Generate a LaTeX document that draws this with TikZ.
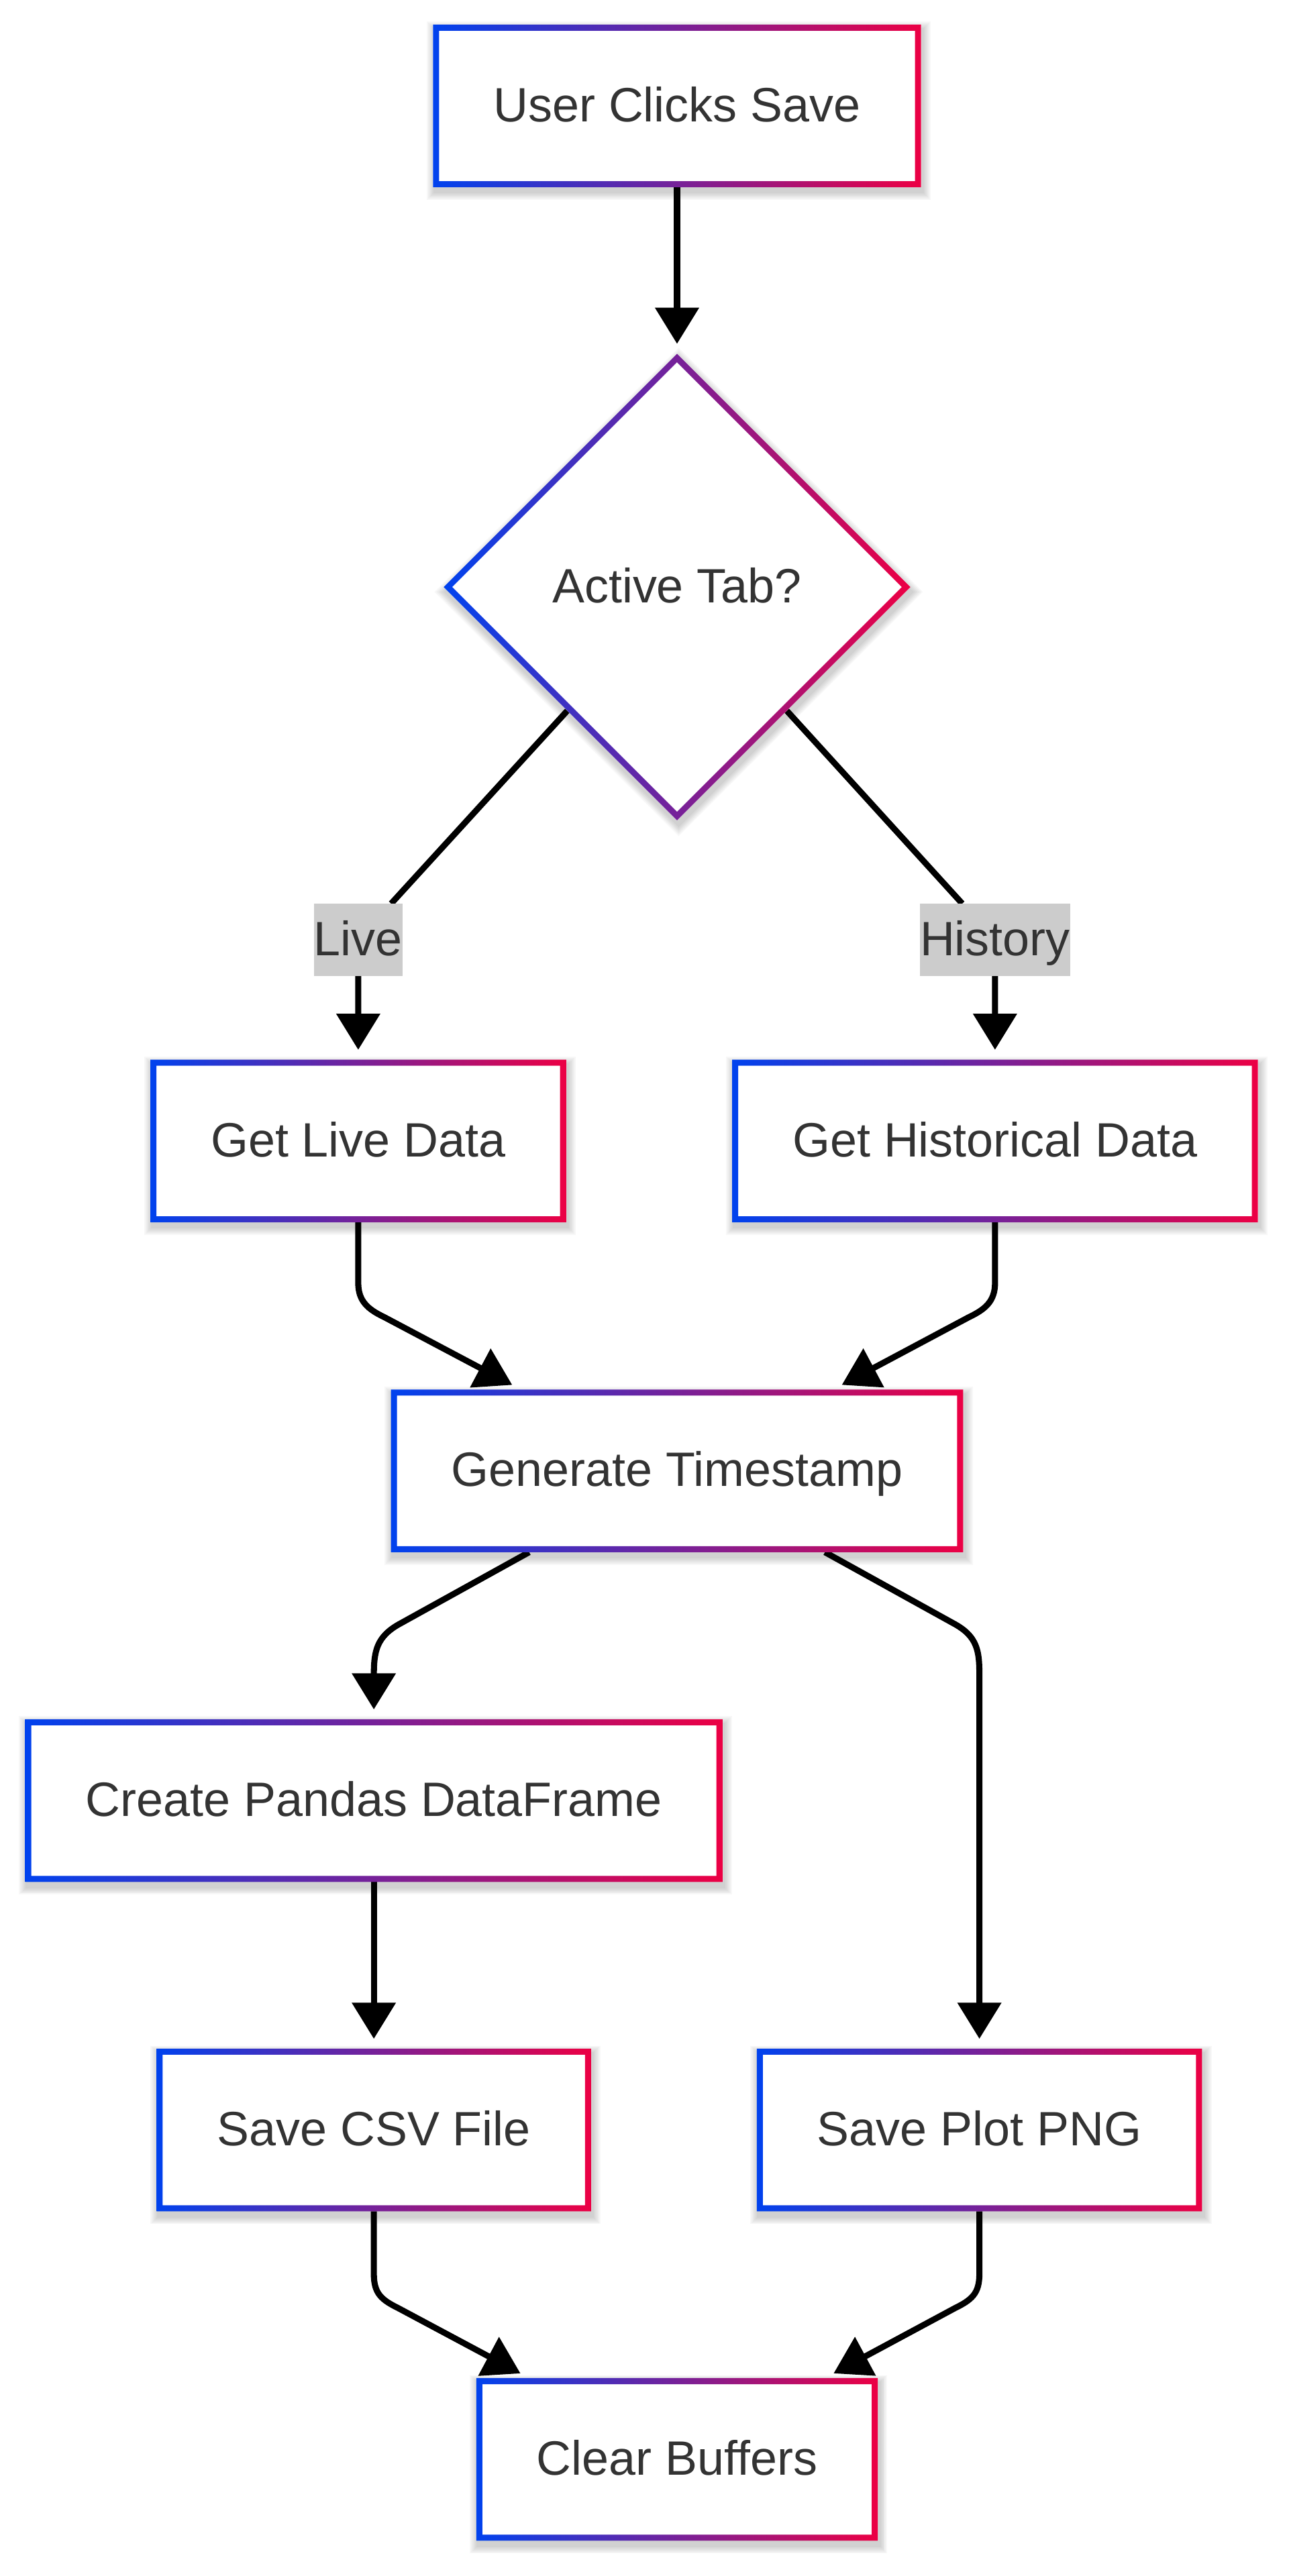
\documentclass[tikz,border=0pt]{standalone}
\usepackage{fontspec}
\setmainfont{Liberation Sans}
\usetikzlibrary{shapes.geometric,arrows.meta,calc}
\definecolor{gblue}{RGB}{0,66,238}
\definecolor{gred}{RGB}{236,0,68}
\definecolor{txtc}{HTML}{333333}
\definecolor{lblbg}{HTML}{CCCCCC}
\pgfdeclarelayer{bglayer}
\pgfdeclarelayer{shadowlayer}
\pgfdeclarelayer{edgelayer}
\pgfsetlayers{bglayer,shadowlayer,edgelayer,main}
\newcommand{\gradring}[1]{%
  \shade[left color=gblue, right color=gred, even odd rule]
    (#1.south west) rectangle (#1.north east)
    ([xshift=3.7pt,yshift=3.7pt]#1.south west) rectangle ([xshift=-3.7pt,yshift=-3.7pt]#1.north east);}
\newcommand{\gradiam}[1]{%
  \shade[left color=gblue, right color=gred, even odd rule]
    (#1.north) -- (#1.east) -- (#1.south) -- (#1.west) -- cycle
    ([yshift=-5.2pt]#1.north) -- ([xshift=-5.2pt]#1.east) -- ([yshift=5.2pt]#1.south) -- ([xshift=5.2pt]#1.west) -- cycle;}
\newcommand{\boxshadow}[1]{%
  \foreach \k in {1,...,6}{%
    \fill[black,opacity=0.03] ($(#1.south west)+(1-\k*0.8,3+\k*0.8)$) rectangle ($(#1.north east)+(1+\k*0.8,3-\k*0.8)$);}}
\newcommand{\diamshadow}[1]{%
  \foreach \k in {1,...,6}{%
    \fill[black,opacity=0.03] ($(#1.north)+(1,3-\k*1.1)$) -- ($(#1.east)+(1+\k*1.1,3)$) -- ($(#1.south)+(1,3+\k*1.1)$) -- ($(#1.west)+(1-\k*1.1,3)$) -- cycle;}}
\begin{document}
\begin{tikzpicture}[x=1pt,y=-1pt,
  every node/.style={font=\fontsize{29.35}{35}\selectfont, text=txtc},
  proc/.style={rectangle, fill=white, inner xsep=36.8pt, inner ysep=0pt, minimum height=99pt, outer sep=0pt, text height=21pt, text depth=2pt},
  dec/.style={diamond, fill=white, minimum width=284pt, minimum height=284pt, inner sep=0pt, outer sep=0pt, text height=21pt, text depth=2pt},
  lbl/.style={rectangle, fill=lblbg, inner xsep=0pt, inner ysep=0pt, minimum height=44pt, outer sep=0pt, text height=21pt, text depth=2pt},
  arr/.style={draw=black, line width=3.7pt, line join=round, -{Triangle[length=22pt,width=26pt]}, shorten >=6pt}
]
\begin{pgfonlayer}{bglayer}
\fill[white] (0,0) rectangle (784,1568);
\end{pgfonlayer}
\useasboundingbox (0,0) rectangle (784,1568);

\node[proc] (start) at (412,64.5) {User Clicks Save};
\node[dec] (d) at (412,357.3) {Active Tab?};
\node[proc] (gl) at (218,694.5) {Get Live Data};
\node[proc] (gh) at (605.5,694.5) {Get Historical Data};
\node[proc] (gen) at (412,895.3) {Generate Timestamp};
\node[proc] (pd) at (227.5,1096) {Create Pandas DataFrame};
\node[proc] (csv) at (227.5,1296.5) {Save CSV File};
\node[proc] (png) at (596,1296.5) {Save Plot PNG};
\node[proc] (clr) at (412,1497) {Clear Buffers};
\node[lbl] (lv) at (218,572) {Live};
\node[lbl] (lh) at (605.5,572) {History};

\foreach \n in {start,gl,gh,gen,pd,csv,png,clr} {\gradring{\n}}
\gradiam{d}

\begin{pgfonlayer}{shadowlayer}
\foreach \n in {start,gl,gh,gen,pd,csv,png,clr} {\boxshadow{\n}}
\diamshadow{d}
\end{pgfonlayer}

\begin{pgfonlayer}{edgelayer}
\draw[arr] (start) -- (d);
\draw[arr] ($(d.west)!0.53!(d.south)$) -- (lv) -- (gl);
\draw[arr] ($(d.east)!0.53!(d.south)$) -- (lh) -- (gh);
\draw[arr] (gl.south) -- (218,781) .. controls (218,792) and (224,797) .. (233.6,801.6) -- ([xshift=-95pt]gen.north);
\draw[arr] (gh.south) -- (605.5,781) .. controls (605.5,792) and (599.5,797) .. (589.9,801.6) -- ([xshift=95pt]gen.north);
\draw[arr] ([xshift=-90pt]gen.south) -- (244,988) .. controls (229,996) and (227.5,1005) .. (227.5,1020) -- (pd.north);
\draw[arr] ([xshift=90pt]gen.south) -- (580,988) .. controls (595,996) and (596,1005) .. (596,1020) -- (png.north);
\draw[arr] (pd) -- (csv);
\draw[arr] (csv.south) -- (227.5,1384) .. controls (227.5,1396) and (232,1399.8) .. (242.5,1405) -- ([xshift=-90pt]clr.north);
\draw[arr] (png.south) -- (596,1384) .. controls (596,1396) and (591.5,1399.8) .. (581,1405) -- ([xshift=90pt]clr.north);
\end{pgfonlayer}
\end{tikzpicture}
\end{document}
